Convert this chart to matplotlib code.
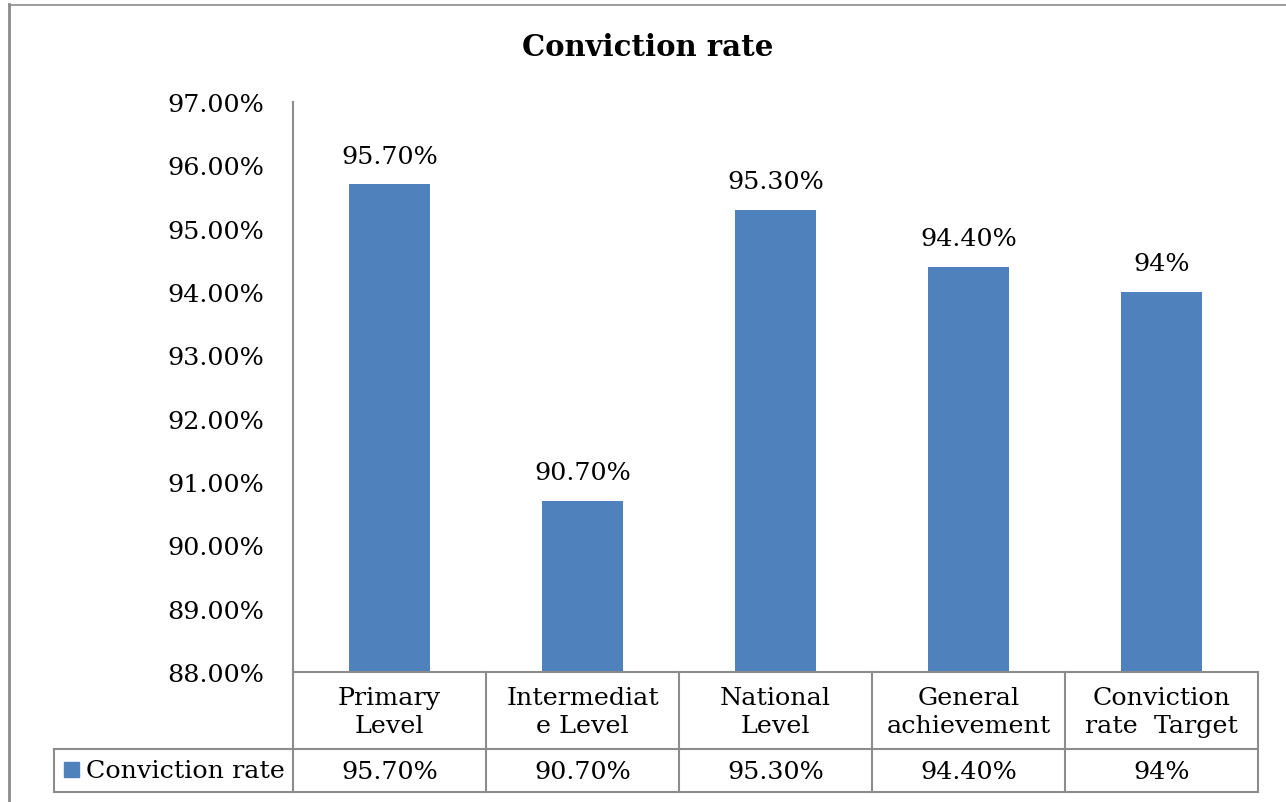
import matplotlib
matplotlib.use("Agg")
import matplotlib.pyplot as plt
from matplotlib.lines import Line2D
from matplotlib.patches import Rectangle
import matplotlib.transforms as mtransforms

categories = ["Primary\nLevel", "Intermediat\ne Level", "National\nLevel", "General\nachievement", "Conviction\nrate  Target"]
values = [95.7, 90.7, 95.3, 94.4, 94.0]
value_labels = ["95.70%", "90.70%", "95.30%", "94.40%", "94%"]
series_name = "Conviction rate"
title = "Conviction rate"
yticks = [88, 89, 90, 91, 92, 93, 94, 95, 96, 97]

W, H = 1286, 803
FONT = "DejaVu Serif"
FS = 18.3
BAR = "#4F81BD"
GRID = "#8C8C8C"

fig = plt.figure(figsize=(W / 100, H / 100), dpi=100)

def fx(px):
    return px / W

def fy(py):
    return 1 - py / H

ax_l, ax_r, ax_t, ax_b = 293, 1258, 103, 673
ax = fig.add_axes([fx(ax_l), fy(ax_b), fx(ax_r) - fx(ax_l), fy(ax_t) - fy(ax_b)])
n = len(categories)
ax.set_xlim(-0.5, n - 0.5)
ax.set_ylim(yticks[0], yticks[-1])
ax.bar(range(n), [v - yticks[0] for v in values], bottom=yticks[0], width=0.415, color=BAR, zorder=2)
for i, (v, lab) in enumerate(zip(values, value_labels)):
    ax.annotate(lab, (i, v), xytext=(0, 28), textcoords="offset pixels", ha="center", va="center",
                fontsize=FS, family=FONT)

ax.set_yticks(yticks)
ax.set_yticklabels([f"{t:.2f}%" for t in yticks], fontsize=FS, family=FONT)
ax.tick_params(axis="y", length=0, pad=21)
ax.set_xticks([])
for s in ["top", "right", "bottom"]:
    ax.spines[s].set_visible(False)
ax.spines["left"].set_color(GRID)
ax.spines["left"].set_linewidth(1.5)

# title
fig.text(fx(648), fy(48), title, ha="center", va="center", fontsize=21, family=FONT, fontweight="bold")

# data table below the axes
trans = mtransforms.blended_transform_factory(ax.transData, fig.transFigure)
row1_top, row1_bot, row2_bot = 673, 750, 793
legend_left = 54

def hline(x0, x1, py, lw=1.5):
    fig.add_artist(Line2D([fx(x0), fx(x1)], [fy(py), fy(py)], color=GRID, lw=lw, transform=fig.transFigure))

def vline(px, y0, y1, lw=1.5):
    fig.add_artist(Line2D([fx(px), fx(px)], [fy(y0), fy(y1)], color=GRID, lw=lw, transform=fig.transFigure))

hline(ax_l, ax_r, row1_top)
hline(legend_left, ax_r, row1_bot)
hline(legend_left, ax_r, row2_bot)
vline(legend_left, row1_bot, row2_bot)
cw = (ax_r - ax_l) / n
for k in range(n + 1):
    vline(ax_l + k * cw, row1_top, row2_bot)

for i, (cat, lab) in enumerate(zip(categories, value_labels)):
    fig.text(i, fy((row1_top + row1_bot) / 2 + 1), cat, transform=trans, ha="center", va="center",
             fontsize=FS, family=FONT, linespacing=1.3)
    fig.text(i, fy((row1_bot + row2_bot) / 2 + 1), lab, transform=trans, ha="center", va="center",
             fontsize=FS, family=FONT)

fig.add_artist(Rectangle((fx(64), fy(778)), fx(15), fy(763) - fy(778), color=BAR, transform=fig.transFigure))
fig.text(fx(86), fy(772), series_name, ha="left", va="center", fontsize=FS, family=FONT)

# outer chart border (partially visible)
fig.add_artist(Line2D([fx(9), fx(9)], [fy(5), fy(H + 5)], color=GRID, lw=2, transform=fig.transFigure))
fig.add_artist(Line2D([fx(9), fx(W + 5)], [fy(5.5), fy(5.5)], color=GRID, lw=1.2, transform=fig.transFigure))

fig.savefig("out.png", dpi=100, facecolor="white")
